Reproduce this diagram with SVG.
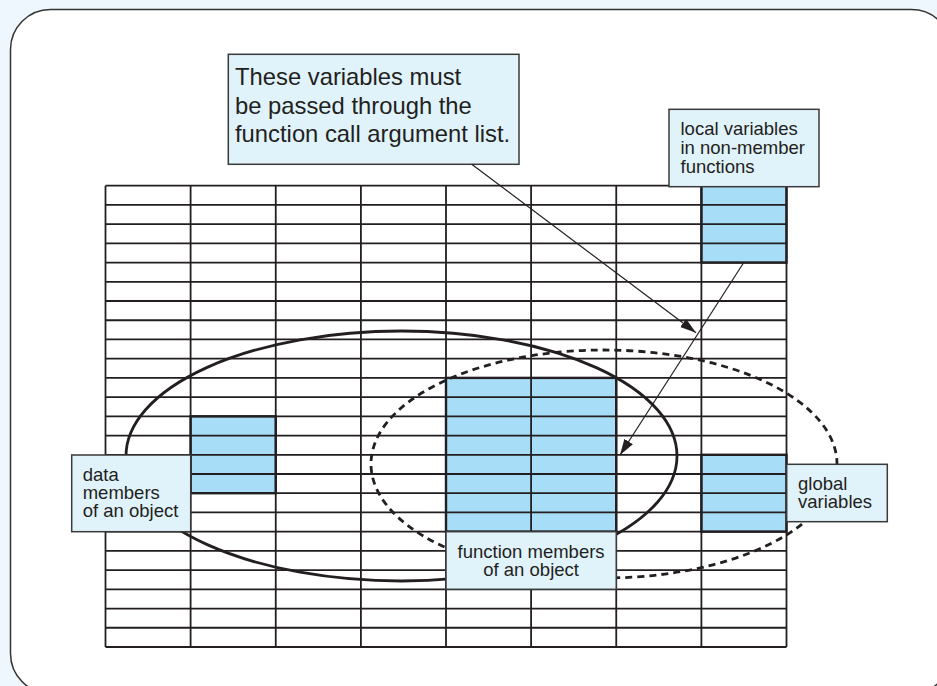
<svg xmlns="http://www.w3.org/2000/svg" width="937" height="686" viewBox="0 0 937 686">
  <defs>
    <style>
      .grid { fill: none; stroke: #231f20; stroke-width: 1.8; }
      .cell { fill: #a8ddf7; }
      .cellborder { fill: none; stroke: #231f20; stroke-width: 2.4; }
      .box { fill: #e0f2fa; stroke: #3a3a3a; stroke-width: 1.5; }
      .t { font-family: "Liberation Sans", Arial, Helvetica, sans-serif; fill: #231f20; }
      .big { font-size: 23.8px; }
      .small { font-size: 18.5px; }
      .solid { fill: none; stroke: #231f20; stroke-width: 2.8; }
      .dashed { fill: none; stroke: #231f20; stroke-width: 2.8; stroke-dasharray: 7 5; }
      .conn { fill: none; stroke: #231f20; stroke-width: 1.2; }
    </style>
    <marker id="arrow" markerUnits="userSpaceOnUse" markerWidth="18" markerHeight="12" refX="16" refY="5" orient="auto">
      <path d="M0,0 L16,5 L0,10 Z" fill="#231f20"/>
    </marker>
  </defs>

  <rect x="0" y="0" width="937" height="686" fill="#eef7fd"/>
  <rect id="frame" x="10.5" y="9.5" width="941" height="684" rx="40" ry="40" fill="#ffffff" stroke="#333333" stroke-width="1.5"/>

  <g id="cells">
    <rect class="cell" x="701.4" y="185.7" width="85.1" height="76.9"/>
    <rect class="cell" x="446" y="377.9" width="170.25" height="153.76"/>
    <rect class="cell" x="190.6" y="416.34" width="85.15" height="76.88"/>
    <rect class="cell" x="701.4" y="454.78" width="85.1" height="76.88"/>
  </g>

  <g id="grid">
    <path class="grid" d="M105.5,185.7 H786.5 M105.5,204.92 H786.5 M105.5,224.14 H786.5 M105.5,243.36 H786.5 M105.5,262.58 H786.5 M105.5,281.8 H786.5 M105.5,301.02 H786.5 M105.5,320.24 H786.5 M105.5,339.46 H786.5 M105.5,358.68 H786.5 M105.5,377.9 H786.5 M105.5,397.12 H786.5 M105.5,416.34 H786.5 M105.5,435.56 H786.5 M105.5,454.78 H786.5 M105.5,474 H786.5 M105.5,493.22 H786.5 M105.5,512.44 H786.5 M105.5,531.66 H786.5 M105.5,550.88 H786.5 M105.5,570.1 H786.5 M105.5,589.32 H786.5 M105.5,608.54 H786.5 M105.5,627.76 H786.5 M105.5,646.98 H786.5"/>
    <path class="grid" d="M105.5,185.7 V646.98 M190.6,185.7 V646.98 M275.75,185.7 V646.98 M360.9,185.7 V646.98 M446,185.7 V646.98 M531.1,185.7 V646.98 M616.25,185.7 V646.98 M701.4,185.7 V646.98 M786.5,185.7 V646.98"/>
    <rect class="cellborder" x="701.4" y="185.7" width="85.1" height="76.9"/>
    <rect class="cellborder" x="446" y="377.9" width="170.25" height="153.76"/>
    <rect class="cellborder" x="190.6" y="416.34" width="85.15" height="76.88"/>
    <rect class="cellborder" x="701.4" y="454.78" width="85.1" height="76.88"/>
  </g>

  <g id="scopes">
    <ellipse id="object-scope" class="solid" cx="401.5" cy="456" rx="275.5" ry="125"/>
    <ellipse id="global-scope" class="dashed" cx="604" cy="464" rx="233" ry="114"/>
  </g>

  <g id="callout">
    <rect class="box" x="228.3" y="54.3" width="290.7" height="110"/>
    <text class="t big" x="235" y="85">These variables must</text>
    <text class="t big" x="235" y="113.5">be passed through the</text>
    <text class="t big" x="235" y="141.5">function call argument list.</text>
  </g>

  <g id="local-variables">
    <rect class="box" x="669" y="109.3" width="150" height="77.4"/>
    <text class="t small" x="680.5" y="135">local variables</text>
    <text class="t small" x="680.5" y="154">in non-member</text>
    <text class="t small" x="680.5" y="172.7">functions</text>
  </g>

  <g id="data-members">
    <rect class="box" x="71.7" y="455" width="119" height="76.7"/>
    <text class="t small" x="82.7" y="481">data</text>
    <text class="t small" x="82.7" y="499">members</text>
    <text class="t small" x="82.7" y="517.3">of an object</text>
  </g>

  <g id="global-variables">
    <rect class="box" x="786.7" y="464.3" width="100.6" height="57.4"/>
    <text class="t small" x="798" y="490">global</text>
    <text class="t small" x="798" y="508.3">variables</text>
  </g>

  <g id="function-members">
    <rect class="box" x="446" y="531.7" width="170.25" height="57.6"/>
    <text class="t small" x="531.1" y="558.3" text-anchor="middle">function members</text>
    <text class="t small" x="531.1" y="576" text-anchor="middle">of an object</text>
  </g>

  <g id="connectors">
    <line class="conn" x1="471.7" y1="164.3" x2="696" y2="332.7" marker-end="url(#arrow)"/>
    <line class="conn" x1="743.3" y1="263.3" x2="620" y2="455" marker-end="url(#arrow)"/>
  </g>
</svg>
